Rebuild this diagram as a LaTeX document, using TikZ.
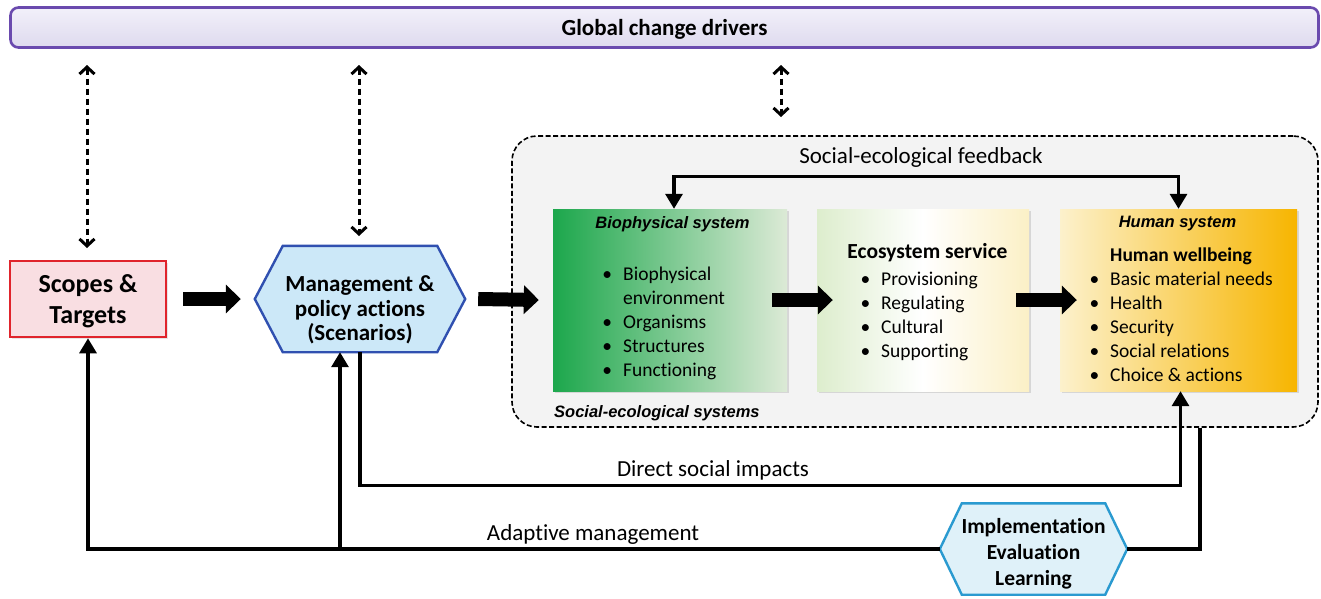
\documentclass[tikz,border=0pt]{standalone}
\usepackage{fontspec}
\setmainfont{Carlito}[Ligatures={NoCommon}]
\newfontfamily\arialf{Liberation Sans}
\usetikzlibrary{arrows.meta,shadows,calc}
\definecolor{purpb}{HTML}{6A4AAE}
\definecolor{lavtop}{HTML}{F2F0FA}
\definecolor{lavbot}{HTML}{DEDAEE}
\definecolor{redb}{HTML}{E0242C}
\definecolor{pinkf}{HTML}{F9DEE2}
\definecolor{blueb}{HTML}{3050B0}
\definecolor{bluef}{HTML}{CCE8F8}
\definecolor{cyanb}{HTML}{2A9AD0}
\definecolor{cyanf}{HTML}{DFF1F9}
\definecolor{sesf}{HTML}{F3F3F3}
\definecolor{greenl}{HTML}{1CA74C}
\definecolor{greenr}{HTML}{DCEAD6}
\definecolor{ecol}{HTML}{DDEDCD}
\definecolor{ecor}{HTML}{FBF0C6}
\definecolor{huml}{HTML}{FCF1CC}
\definecolor{humr}{HTML}{F7B500}
\newcommand{\bul}{\llap{\textbullet\hspace{11pt}}}
\tikzset{
  sysbox/.style={minimum width=#1, minimum height=182pt, inner sep=0pt,
    drop shadow={opacity=0.25, shadow xshift=2pt, shadow yshift=-2pt}},
  bigarrow/.style={line width=14pt, -{Triangle[length=15pt,width=28pt]}},
  dasharrow/.style={line width=3pt, dash pattern=on 6.5pt off 3.5pt,
    {Straight Barb[length=7pt,width=15pt]}-{Straight Barb[length=7pt,width=15pt]}},
  conn/.style={line width=3.2pt, -{Triangle[length=15pt,width=17pt]}},
  plain/.style={line width=3.2pt},
  lbl/.style={font=\fontsize{23}{26}\selectfont, inner sep=0pt, anchor=base},
  ttl/.style={font=\arialf\bfseries\itshape\fontsize{16.5}{19}\selectfont, inner sep=0pt, anchor=base},
  blist/.style={font=\fontsize{19.5}{24}\selectfont, inner sep=0pt, anchor=base west},
}
\begin{document}
\begin{tikzpicture}[x=1pt,y=-1pt]
\useasboundingbox (0,0) rectangle (1321,598);
% top bar
\node[draw=purpb, line width=2.6pt, rounded corners=8pt, top color=lavtop, bottom color=lavbot,
  minimum width=1308pt, minimum height=40pt] (gcd) at (664.5,27.5) {};
\node[font=\bfseries\fontsize{23}{26}\selectfont, inner sep=0pt, anchor=base] at (664.5,35) {Global change drivers};
% social-ecological systems box
\node[draw, line width=1.6pt, dash pattern=on 5pt off 2.5pt, rounded corners=25pt, fill=sesf,
  minimum width=806pt, minimum height=291pt] (ses) at (915,281.5) {};
% dashed double arrows
\coordinate (d1a) at (87,65);  \coordinate (d1b) at (87,248);
\coordinate (d2a) at (359,65); \coordinate (d2b) at (359,236);
\coordinate (d3a) at (781,65); \coordinate (d3b) at (781,117);
\draw[dasharrow] (d1a) -- (d1b);
\draw[dasharrow] (d2a) -- (d2b);
\draw[dasharrow] (d3a) -- (d3b);
% scopes
\node[draw=redb, line width=2.6pt, fill=pinkf, minimum width=156pt, minimum height=76pt,
  drop shadow={opacity=0.2, shadow xshift=2pt, shadow yshift=-2pt}]
  (scopes) at (88,299) {};
\node[align=center, font=\bfseries\fontsize{26}{31}\selectfont, inner sep=0pt] at (88,301) {Scopes \&\\Targets};
% management hexagon
\node[minimum width=210pt, minimum height=106pt, inner sep=0pt] (mgmt) at (360,299) {};
\draw[draw=blueb, line width=2.4pt, fill=bluef]
  (mgmt.west) -- ([xshift=28pt]mgmt.north west) -- ([xshift=-28pt]mgmt.north east)
  -- (mgmt.east) -- ([xshift=-28pt]mgmt.south east) -- ([xshift=28pt]mgmt.south west) -- cycle;
\node[align=center, font=\bfseries\fontsize{23}{24.5}\selectfont, inner sep=0pt] at (360,310) {Management \&\\policy actions\\(Scenarios)};
% system boxes
\node[sysbox=234pt, left color=greenl, right color=greenr] (bio) at (670,300) {};
\node[sysbox=212pt, left color=ecol, right color=ecor, middle color=white] (eco) at (923,300) {};
\node[sysbox=237pt, left color=huml, right color=humr] (hum) at (1178.5,300) {};
\node[ttl] at (672.5,228) {Biophysical system};
\node[ttl] at (1177.5,227) {Human system};
\node[blist] at (623,280) {\begin{tabular}[t]{@{}l@{}}
\bul Biophysical\\ environment\\ \bul Organisms\\ \bul Structures\\ \bul Functioning\end{tabular}};
\node[font=\bfseries\fontsize{21.5}{24}\selectfont, inner sep=0pt, anchor=base] at (927.5,258) {Ecosystem service};
\node[blist] at (881,285) {\begin{tabular}[t]{@{}l@{}}
\bul Provisioning\\ \bul Regulating\\ \bul Cultural\\ \bul Supporting\end{tabular}};
\node[blist] at (1110,261) {\begin{tabular}[t]{@{}l@{}}
\textbf{Human wellbeing}\\ \bul Basic material needs\\ \bul Health\\ \bul Security\\ \bul Social relations\\ \bul Choice \& actions\end{tabular}};
\node[ttl, anchor=base west] at (554,417) {Social-ecological systems};
% feedback
\node[lbl] at (921,163) {Social-ecological feedback};
\draw[line width=3.2pt, {Triangle[length=15pt,width=17pt]}-{Triangle[length=15pt,width=17pt]}]
  ([xshift=4pt]bio.north) -- ++(0,-32) -| (hum.north);
% big arrows
\draw[bigarrow] ([xshift=16pt]scopes.east) -- ([xshift=-14pt]mgmt.west);
\draw[bigarrow] ([xshift=13pt]mgmt.east) -- ([xshift=-14pt]bio.west);
\draw[bigarrow] ([xshift=-15pt]bio.east) -- ([xshift=16pt]eco.west);
\draw[bigarrow] ([xshift=-13pt]eco.east) -- ([xshift=17pt]hum.west);
% implementation hexagon
\node[minimum width=187pt, minimum height=91pt, inner sep=0pt] (impl) at (1033.5,549) {};
\draw[draw=cyanb, line width=2.4pt, fill=cyanf]
  (impl.west) -- ([xshift=22pt]impl.north west) -- ([xshift=-22pt]impl.north east)
  -- (impl.east) -- ([xshift=-22pt]impl.south east) -- ([xshift=22pt]impl.south west) -- cycle;
\node[align=center, font=\bfseries\fontsize{21.5}{26}\selectfont, inner sep=0pt] at (1033.5,553.5) {Implementation\\Evaluation\\Learning};
% direct social impacts
\draw[conn] (mgmt.south) -- ++(0,133) -| ([xshift=2pt]hum.south);
\node[lbl] at (713,476) {Direct social impacts};
% return line
\draw[plain] ([xshift=285pt]ses.south) |- (impl.east);
% adaptive management
\draw[conn] (impl.west) -| (scopes.south);
\coordinate (br) at ([xshift=-20pt]mgmt.south |- impl.west);
\draw[conn] (br) -- ([xshift=-20pt]mgmt.south);
\node[lbl] at (593,540) {Adaptive management};
\end{tikzpicture}
\end{document}
